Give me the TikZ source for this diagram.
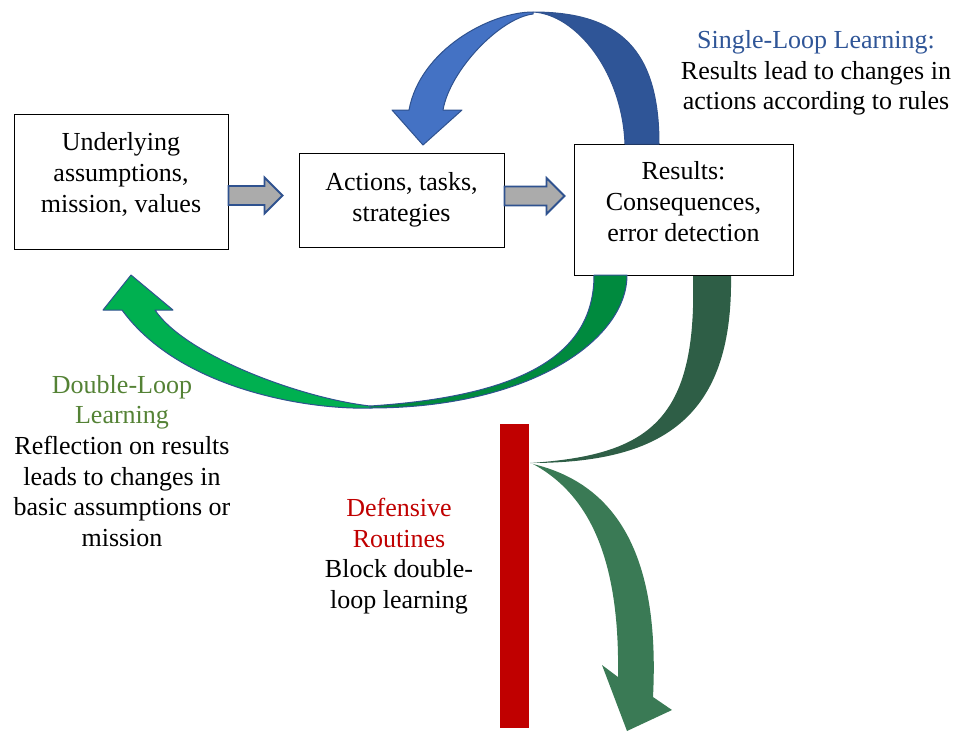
\documentclass[tikz,border=0pt]{standalone}
\usepackage{fontspec}
\setmainfont{Liberation Serif}
\usetikzlibrary{calc}

\definecolor{slblue}{HTML}{2F5597}
\definecolor{arcblue}{HTML}{4472C4}
\definecolor{arcdark}{HTML}{2F5597}
\definecolor{edgeblue}{HTML}{2F528F}
\definecolor{dlgreen}{HTML}{00B050}
\definecolor{dldark}{HTML}{008A3E}
\definecolor{dltext}{HTML}{548235}
\definecolor{defred}{HTML}{C00000}
\definecolor{blockgreen}{HTML}{2E5E46}
\definecolor{fallgreen}{HTML}{3A7A55}
\definecolor{shaftgray}{HTML}{ABABAB}

\newcommand{\blockarrow}[2]{%
	\draw[blockarrow] let \p1=#1, \p2=#2 in
		(\x1,{\y1+9.5pt}) -- ({\x2-18pt},{\y1+9.5pt}) -- ({\x2-18pt},{\y1+18pt}) -- (\x2,\y1)
		-- ({\x2-18pt},{\y1-18pt}) -- ({\x2-18pt},{\y1-9.5pt}) -- (\x1,{\y1-9.5pt}) -- cycle;}

\begin{document}
\begin{tikzpicture}[x=1pt, y=-1pt,
		box/.style={draw, line width=1pt},
		txt/.style={align=center, font=\fontsize{26}{30.7}\selectfont, inner sep=0pt},
		blockarrow/.style={fill=shaftgray, draw=edgeblue, line width=1.8pt, line join=miter},
		bigarrow/.style={draw=edgeblue, line width=1pt, line join=round}]
	\useasboundingbox (0,0) rectangle (959,732);

	% the three boxes
	\node[box, minimum width=214pt, minimum height=135pt] (under) at (121,181.5) {};
	\node[box, minimum width=205pt, minimum height=94pt] (act) at (401.5,200) {};
	\node[box, minimum width=219pt, minimum height=131pt] (res) at (683.5,209.5) {};
	\node[txt] (undertxt) at ($(under)+(0,-7)$) {Underlying\\assumptions,\\mission, values};
	\node[txt] (acttxt) at (act) {Actions, tasks,\\strategies};
	\node[txt] (restxt) at ($(res)+(0,-8)$) {Results:\\Consequences,\\error detection};

	\blockarrow{($(under.east)+(0,14)$)}{($(act.west)+(-16,-4.5)$)}
	\blockarrow{($(act.east)+(0,-4)$)}{($(res.west)+(-9,-13.5)$)}

	% single loop
	\draw[bigarrow, fill=arcdark] (625,144) -- (659,144) .. controls (659,50) and (620,12) .. (533,12)
		.. controls (575,14) and (622,70) .. (625,144) -- cycle;
	\draw[bigarrow, fill=arcblue] (533,12) .. controls (490,12) and (420,50) .. (409,110) -- (392,110) -- (423,145)
		-- (462,110) -- (443,110) .. controls (450,70) and (500,18) .. (533,14) -- cycle;

	% double loop
	\draw[bigarrow, fill=dldark] (594,275) -- (627,275) .. controls (627,340) and (530,408) .. (370,408)
		-- (370,406) .. controls (540,395) and (594,345) .. (594,275) -- cycle;
	\draw[bigarrow, fill=dlgreen] (370,408) .. controls (310,410) and (180,390) .. (122,310) -- (103,310) -- (131,275)
		-- (173,310) -- (155,310) .. controls (185,355) and (300,398) .. (370,406) -- cycle;

	% defensive routines
	\node[fill=defred, minimum width=29pt, minimum height=304pt, inner sep=0pt] (wall) at (514.5,576) {};
	\fill[blockgreen] (693,276) -- (731,276) .. controls (733,420) and (660,463) .. (530,463)
		.. controls (650,455) and (697,420) .. (693,276) -- cycle;
	\fill[fallgreen] (533,464) .. controls (590,495) and (620,560) .. (618,677) -- (602,665) -- (627,731)
		-- (672,710) -- (653,697) .. controls (660,560) and (620,485) .. (533,464) -- cycle;

	% labels
	\node[txt] (sllabel) at (816,73) {\textcolor{slblue}{Single-Loop Learning:}\\Results lead to changes in\\actions according to rules};
	\node[txt] (dllabel) at (122,461) {\textcolor{dltext}{Double-Loop}\\\textcolor{dltext}{Learning}\\Reflection on results\\leads to changes in\\basic assumptions or\\mission};
	\node[txt] (drlabel) at (399,556) {\textcolor{defred}{Defensive}\\\textcolor{defred}{Routines}\\Block double-\\loop learning};
\end{tikzpicture}
\end{document}
